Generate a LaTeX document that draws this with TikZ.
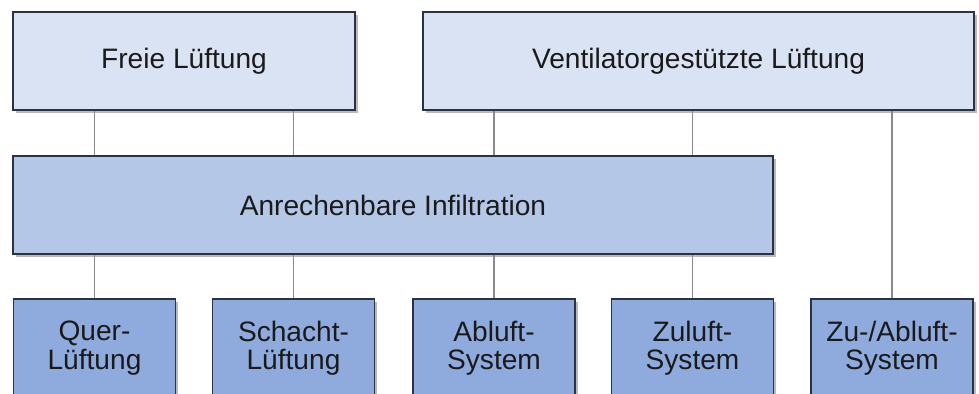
\documentclass[tikz,border=0pt]{standalone}
\usepackage{fontspec}
\setmainfont{Liberation Sans}
\usepackage{xcolor}
\usepackage{tikz}
\usetikzlibrary{positioning,shadows,backgrounds}
\definecolor{lftlight}{HTML}{DAE3F3}
\definecolor{lftmid}{HTML}{B4C7E7}
\definecolor{lftdark}{HTML}{8FAADC}
\definecolor{lftline}{HTML}{2B3342}
\definecolor{lftgray}{HTML}{8A8A8A}
\definecolor{lfttext}{HTML}{1A1A1A}
\tikzset{
  box/.style={draw=lftline,line width=0.8pt,align=center,inner sep=2pt,text=lfttext,
    font=\fontsize{16pt}{16.2pt}\selectfont,minimum height=1.96cm,
    drop shadow={shadow xshift=1.6pt,shadow yshift=-1.6pt,fill=black!45,opacity=0.6}},
  topbox/.style={box,fill=lftlight},
  midbox/.style={box,fill=lftmid},
  leafbox/.style={box,fill=lftdark,minimum width=3.24cm},
  con/.style={draw=lftgray,line width=0.6pt},
}

\begin{document}
\begin{tikzpicture}[x=0.02cm,y=-0.02cm]
\useasboundingbox (0,0) rectangle (979,394);
% top row
\node[topbox,minimum width=6.84cm] (freie) at (184,61) {Freie Lüftung};
\node[topbox,minimum width=11.02cm] (vent) at (698.5,61) {Ventilatorgestützte Lüftung};
% middle
\node[midbox,minimum width=15.2cm] (inf) at (393,205) {Anrechenbare Infiltration};
% leaves
\foreach \n/\x/\txt in {quer/94.5/{Quer-\\Lüftung}, schacht/293.5/{Schacht-\\Lüftung}, abl/494/{Abluft-\\System}, zul/692.5/{Zuluft-\\System}, zuab/892/{Zu-/Abluft-\\System}} {
  \node[leafbox] (\n) at (\x,348) {\txt};
}
% connectors
\begin{scope}[on background layer]
\foreach \s/\t in {freie/quer, freie/schacht, vent/abl, vent/zul} {
  \draw[con] (\s.south -| \t) -- (inf.north -| \t);
  \draw[con] (inf.south -| \t) -- (\t.north);
}
\draw[con] (vent.south -| zuab) -- (zuab.north);
\end{scope}
\end{tikzpicture}
\end{document}
